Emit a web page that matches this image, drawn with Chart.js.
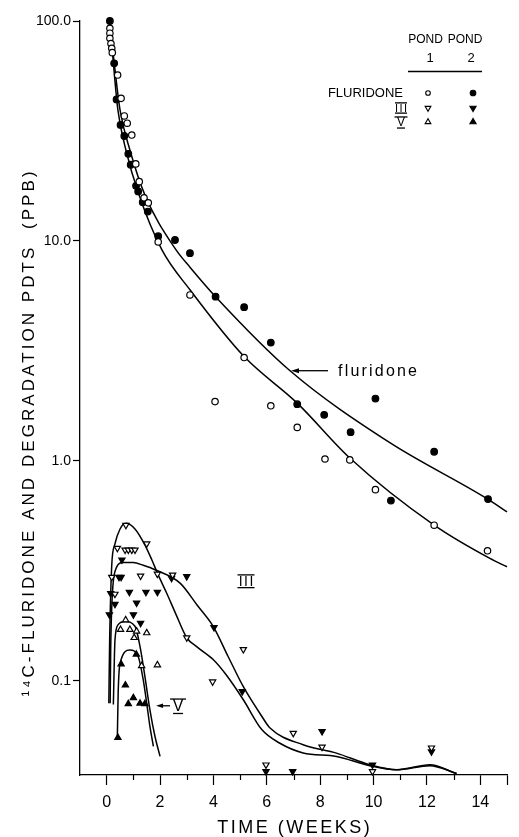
<!DOCTYPE html>
<html>
<head>
<meta charset="utf-8">
<script src="https://cdn.jsdelivr.net/npm/chart.js@4.4.1/dist/chart.umd.min.js"></script>
<style>
  html, body { margin: 0; padding: 0; background: #fff; }
  #wrap { width: 519px; height: 837px; position: relative; }
  canvas { display: block; }
</style>
</head>
<body>
<div id="wrap"><canvas id="c" width="519" height="837"></canvas></div>
<script>
// ---------------- DATA ----------------
// Fluridone, pond 1 (open circles)
const fluridoneWeeksP1 = [0.12, 0.12, 0.12, 0.16, 0.19, 0.21, 0.41, 0.54, 0.66, 0.77, 0.94, 1.09, 1.22, 1.40, 1.56, 1.93, 3.12, 4.06, 5.15, 6.15, 7.14, 8.18, 9.11, 10.07, 12.27, 14.27];
const fluridonePpbP1   = [92.6, 88, 83.4, 79, 75.1, 71.8, 56.8, 44.5, 37, 34.3, 30.3, 22.4, 18.6, 15.7, 14.9, 9.9, 5.68, 1.86, 2.95, 1.78, 1.42, 1.02, 1.01, 0.74, 0.51, 0.39];
// Fluridone, pond 2 (filled circles)
const fluridoneWeeksP2 = [0.12, 0.28, 0.37, 0.52, 0.66, 0.81, 0.90, 1.10, 1.18, 1.35, 1.54, 1.93, 2.56, 3.12, 4.08, 5.15, 6.15, 7.14, 8.15, 9.14, 10.07, 10.65, 12.27, 14.29];
const fluridonePpbP2   = [100, 64.2, 44, 33.7, 30, 24.9, 22.2, 17.8, 16.8, 15, 13.6, 10.5, 10.1, 8.8, 5.58, 5.0, 3.45, 1.81, 1.62, 1.35, 1.92, 0.66, 1.10, 0.67];
// Product III, pond 1 (open down-triangles)
const prodIIIWeeksP1 = [0.72, 0.40, 0.69, 0.81, 0.94, 1.06, 1.50, 0.19, 1.27, 1.90, 2.47, 0.31, 3.0, 5.12, 3.97, 6.99, 8.07, 12.17, 5.97, 9.96];
const prodIIIPpbP1   = [0.51, 0.401, 0.394, 0.394, 0.394, 0.394, 0.42, 0.296, 0.300, 0.306, 0.303, 0.248, 0.157, 0.139, 0.099, 0.0578, 0.050, 0.0496, 0.0415, 0.0387];
// Product III, pond 2 (filled down-triangles)
const prodIIIWeeksP2 = [0.57, 0.46, 0.54, 2.43, 3.0, 0.15, 0.85, 1.47, 1.90, 0.31, 1.12, 0.10, 1.0, 1.27, 4.02, 5.08, 8.07, 12.17, 6.97, 5.97, 9.96];
const prodIIIPpbP2   = [0.355, 0.296, 0.296, 0.293, 0.298, 0.25, 0.253, 0.253, 0.253, 0.223, 0.226, 0.20, 0.20, 0.183, 0.175, 0.0894, 0.0589, 0.0476, 0.0387, 0.0387, 0.0415];
// Product V, pond 1 (open up-triangles)
const prodVWeeksP1 = [0.71, 0.52, 0.87, 1.03, 1.12, 1.50, 1.31, 1.90];
const prodVPpbP1   = [0.189, 0.171, 0.171, 0.157, 0.168, 0.165, 0.117, 0.118];
// Product V, pond 2 (filled up-triangles)
const prodVWeeksP2 = [0.54, 1.11, 0.70, 1.0, 0.81, 1.25, 1.43, 0.42];
const prodVPpbP2   = [0.119, 0.132, 0.0955, 0.0837, 0.0786, 0.079, 0.0786, 0.0552];

// Hand-drawn fitted curves
const fitFluridoneP2Weeks = [0.12, 0.27, 0.5, 0.87, 1.43, 2.6, 3.12, 4.08, 6.87, 10.61, 14.28, 15];
const fitFluridoneP2Ppb   = [100, 66.5, 39.4, 25.9, 16.2, 9.1, 7.6, 5.58, 2.57, 1.21, 0.67, 0.586];
const fitFluridoneP1Weeks = [0.12, 0.24, 0.42, 0.72, 1.21, 2.07, 3.12, 5.15, 7.14, 9.11, 12.27, 14.36, 15];
const fitFluridoneP1Ppb   = [100, 66.5, 39.4, 25.9, 16.2, 9.1, 6.0, 2.98, 1.83, 1.03, 0.51, 0.36, 0.33];
const fitIIIP1Weeks = [0.08, 0.11, 0.19, 0.3, 0.5, 0.72, 1.06, 1.43, 1.69, 1.93, 2.25, 2.6, 3.0, 3.37, 3.99, 4.49, 5.12, 5.81, 6.49, 7.36, 8.61, 9.86, 10.86, 12.11, 13.11];
const fitIIIP1Ppb   = [0.079, 0.15, 0.336, 0.415, 0.49, 0.52, 0.49, 0.415, 0.355, 0.303, 0.25, 0.2, 0.157, 0.143, 0.125, 0.106, 0.082, 0.06, 0.052, 0.047, 0.0453, 0.0411, 0.0394, 0.0411, 0.0379];
const fitIIIP2Weeks = [0.13, 0.15, 0.2, 0.31, 0.62, 1.0, 1.37, 1.81, 2.75, 3.4, 3.99, 4.55, 5.12, 5.81, 6.12, 7.36, 8.61, 9.86, 10.86, 12.11, 13.11];
const fitIIIP2Ppb   = [0.079, 0.138, 0.231, 0.314, 0.345, 0.345, 0.335, 0.32, 0.278, 0.22, 0.177, 0.129, 0.094, 0.069, 0.061, 0.0512, 0.0469, 0.0415, 0.0394, 0.0415, 0.0379];
const fitVP1Weeks = [0.25, 0.31, 0.43, 0.69, 1.06, 1.25, 1.43, 1.62, 1.81, 2.0];
const fitVP1Ppb   = [0.078, 0.153, 0.18, 0.186, 0.177, 0.143, 0.105, 0.0738, 0.0558, 0.0453];
const fitVP2Weeks = [0.40, 0.43, 0.5, 0.87, 1.18, 1.37, 1.5, 1.62, 1.75];
const fitVP2Ppb   = [0.0558, 0.0879, 0.12, 0.138, 0.129, 0.101, 0.079, 0.062, 0.0503];

// Axis ticks
const xLabelWeeks = [0, 2, 4, 6, 8, 10, 12, 14];
const yTickValues = [0.1, 1, 10, 100];
const yTickLabels = ['0.1', '1.0', '10.0', '100.0'];

// ---------------- CHART ----------------
const FONT = '"Liberation Sans", Arial, sans-serif';
const pts = (xs, ys) => xs.map((x, i) => ({ x: x, y: ys[i] }));

function markerSet(label, xs, ys, style, filled, rotation, radius) {
  return {
    label: label,
    data: pts(xs, ys),
    showLine: false,
    pointStyle: style,
    pointRotation: rotation,
    pointRadius: radius,
    pointHoverRadius: radius,
    pointBackgroundColor: filled ? '#000' : '#fff',
    pointBorderColor: '#000',
    pointBorderWidth: 1.2,
    clip: false,
    order: 0
  };
}
function curveSet(label, xs, ys) {
  return {
    label: label,
    data: pts(xs, ys),
    showLine: true,
    pointRadius: 0,
    pointHoverRadius: 0,
    borderColor: '#000',
    borderWidth: 1.5,
    cubicInterpolationMode: 'monotone',
    fill: false,
    clip: false,
    order: 1
  };
}

function spacedText(ctx, text, x, y, targetWidth) {
  ctx.letterSpacing = '0px';
  const w = ctx.measureText(text).width;
  const n = Array.from(text).length;
  const sp = Math.max(0, (targetWidth - w) / n);
  ctx.letterSpacing = sp.toFixed(2) + 'px';
  ctx.fillText(text, x + sp / 2, y);
  ctx.letterSpacing = '0px';
}

function drawTri(ctx, x, y, r, down, filled) {
  ctx.beginPath();
  const s = down ? -1 : 1;
  ctx.moveTo(x, y - s * r);
  ctx.lineTo(x - r * 0.866, y + s * r * 0.5);
  ctx.lineTo(x + r * 0.866, y + s * r * 0.5);
  ctx.closePath();
  ctx.fillStyle = filled ? '#000' : '#fff';
  ctx.fill();
  ctx.lineWidth = 1.1;
  ctx.strokeStyle = '#000';
  ctx.stroke();
}
function drawCirc(ctx, x, y, r, filled) {
  ctx.beginPath();
  ctx.arc(x, y, r, 0, Math.PI * 2);
  ctx.fillStyle = filled ? '#000' : '#fff';
  ctx.fill();
  ctx.lineWidth = 1.1;
  ctx.strokeStyle = '#000';
  ctx.stroke();
}
function hline(ctx, x1, x2, y, w) {
  ctx.beginPath();
  ctx.moveTo(x1, y); ctx.lineTo(x2, y);
  ctx.lineWidth = w || 1.2;
  ctx.strokeStyle = '#000';
  ctx.stroke();
}
function roman(ctx, text, cx, cy, size, topW, botW) {
  ctx.save();
  ctx.font = size + 'px ' + FONT;
  ctx.textAlign = 'center';
  ctx.textBaseline = 'middle';
  ctx.fillStyle = '#000';
  ctx.letterSpacing = text === 'III' ? '1.5px' : '0px';
  ctx.fillText(text, cx + (text === 'III' ? 0.75 : 0), cy + 1);
  ctx.letterSpacing = '0px';
  const h = size * 0.42;
  hline(ctx, cx - topW / 2, cx + topW / 2, cy - h, 1.3);
  hline(ctx, cx - botW / 2, cx + botW / 2, cy + h + 1, 1.3);
  ctx.restore();
}

const decor = {
  id: 'decor',
  afterDraw(chart) {
    const ctx = chart.ctx;
    const xs = chart.scales.x, ys = chart.scales.y;
    const ca = chart.chartArea;
    ctx.save();
    ctx.fillStyle = '#000';
    ctx.strokeStyle = '#000';

    // short minor ticks at odd weeks
    for (let v = 1; v <= 13; v += 2) {
      const px = Math.round(xs.getPixelForValue(v)) + 0.5;
      ctx.beginPath();
      ctx.moveTo(px, ca.bottom);
      ctx.lineTo(px, ca.bottom + 5);
      ctx.lineWidth = 1.2;
      ctx.stroke();
    }

    // axis titles
    ctx.textAlign = 'center';
    ctx.textBaseline = 'middle';
    ctx.font = '18px ' + FONT;
    spacedText(ctx, 'TIME (WEEKS)', (ca.left + ca.right) / 2, 828, 155);
    ctx.save();
    ctx.translate(29, 434);
    ctx.rotate(-Math.PI / 2);
    ctx.font = '17px ' + FONT;
    spacedText(ctx, '\u00B9\u2074C-FLURIDONE AND DEGRADATION PDTS  (PPB)', 0, 0, 528);
    ctx.restore();

    // "fluridone" arrow label
    const fx = xs.getPixelForValue(6.87), fy = ys.getPixelForValue(2.57);
    ctx.beginPath();
    ctx.moveTo(fx + 1, fy);
    ctx.lineTo(fx + 9, fy - 2.5);
    ctx.lineTo(fx + 9, fy + 2.5);
    ctx.closePath();
    ctx.fill();
    hline(ctx, fx + 8, fx + 38, fy, 1.3);
    ctx.textAlign = 'left';
    ctx.font = '16px ' + FONT;
    spacedText(ctx, 'fluridone', fx + 47, fy + 1, 81);

    // "III" label
    roman(ctx, 'III', xs.getPixelForValue(5.22), ys.getPixelForValue(0.285), 14, 17, 17);

    // "V" arrow label
    const vx = xs.getPixelForValue(1.85), vy = ys.getPixelForValue(0.077);
    ctx.beginPath();
    ctx.moveTo(vx, vy);
    ctx.lineTo(vx + 7, vy - 2.3);
    ctx.lineTo(vx + 7, vy + 2.3);
    ctx.closePath();
    ctx.fill();
    hline(ctx, vx + 6, vx + 14, vy, 1.3);
    roman(ctx, 'V', vx + 22, vy, 16, 16, 10);

    // legend block (top right)
    ctx.textAlign = 'center';
    ctx.textBaseline = 'middle';
    ctx.fillStyle = '#000';
    ctx.font = '12px ' + FONT;
    ctx.fillText('POND', 425.5, 40);
    ctx.fillText('POND', 465, 40);
    ctx.font = '13px ' + FONT;
    ctx.fillText('1', 430, 58);
    ctx.fillText('2', 471, 58);
    hline(ctx, 408, 482, 71.5, 1.3);
    ctx.textAlign = 'right';
    ctx.fillText('FLURIDONE', 403, 93);
    roman(ctx, 'III', 401, 107.5, 11, 12, 12);
    roman(ctx, 'V', 401, 122, 12, 13, 8);
    drawCirc(ctx, 428, 93, 2.3, false);
    drawCirc(ctx, 473, 93, 2.8, true);
    drawTri(ctx, 428, 108, 3.3, true, false);
    drawTri(ctx, 473, 108, 3.6, true, true);
    drawTri(ctx, 428, 122, 3.3, false, false);
    drawTri(ctx, 473, 122, 3.6, false, true);
    ctx.restore();
  }
};

const chart = new Chart(document.getElementById('c'), {
  type: 'scatter',
  data: {
    datasets: [
      markerSet('Fluridone pond 1', fluridoneWeeksP1, fluridonePpbP1, 'circle', false, 0, 3.2),
      markerSet('Fluridone pond 2', fluridoneWeeksP2, fluridonePpbP2, 'circle', true, 0, 3.3),
      markerSet('III pond 1', prodIIIWeeksP1, prodIIIPpbP1, 'triangle', false, 180, 3.6),
      markerSet('III pond 2', prodIIIWeeksP2, prodIIIPpbP2, 'triangle', true, 180, 3.6),
      markerSet('V pond 1', prodVWeeksP1, prodVPpbP1, 'triangle', false, 0, 3.6),
      markerSet('V pond 2', prodVWeeksP2, prodVPpbP2, 'triangle', true, 0, 3.6),
      curveSet('Fluridone fit pond 2', fitFluridoneP2Weeks, fitFluridoneP2Ppb),
      curveSet('Fluridone fit pond 1', fitFluridoneP1Weeks, fitFluridoneP1Ppb),
      curveSet('III fit pond 1', fitIIIP1Weeks, fitIIIP1Ppb),
      curveSet('III fit pond 2', fitIIIP2Weeks, fitIIIP2Ppb),
      curveSet('V fit pond 1', fitVP1Weeks, fitVP1Ppb),
      curveSet('V fit pond 2', fitVP2Weeks, fitVP2Ppb)
    ]
  },
  options: {
    responsive: false,
    animation: false,
    devicePixelRatio: 1,
    events: [],
    layout: { padding: { top: 21, right: 12, left: 0, bottom: 0 } },
    plugins: {
      legend: { display: false },
      tooltip: { enabled: false },
      title: { display: false }
    },
    scales: {
      x: {
        type: 'linear',
        min: -1,
        max: 15,
        afterFit: (s) => { s.height = 62; },
        ticks: {
          stepSize: 1,
          autoSkip: false,
          maxRotation: 0,
          padding: 8,
          color: '#000',
          font: { family: FONT, size: 16 },
          callback: (v) => (xLabelWeeks.includes(v) ? String(v) : '')
        },
        grid: {
          display: true,
          drawOnChartArea: false,
          drawTicks: true,
          tickLength: 10,
          tickWidth: 1.2,
          tickColor: (c) => {
            const v = c.tick ? c.tick.value : NaN;
            return (xLabelWeeks.includes(v) || v === 15) ? '#000' : 'rgba(0,0,0,0)';
          }
        },
        border: { display: true, color: '#000', width: 1.3 }
      },
      y: {
        type: 'logarithmic',
        min: 0.0373,
        max: 100,
        afterFit: (s) => { s.width = 80; },
        afterBuildTicks: (s) => { s.ticks = yTickValues.map((v) => ({ value: v })); },
        ticks: {
          autoSkip: false,
          padding: 2,
          color: '#000',
          font: { family: FONT, size: 14 },
          callback: (v) => {
            const i = yTickValues.findIndex((t) => Math.abs(t - v) < 1e-9 * Math.max(1, t));
            return i >= 0 ? yTickLabels[i] : '';
          }
        },
        grid: {
          display: true,
          drawOnChartArea: false,
          drawTicks: true,
          tickLength: 7,
          tickWidth: 1.2,
          tickColor: '#000'
        },
        border: { display: true, color: '#000', width: 1.3 }
      }
    }
  },
  plugins: [decor]
});
</script>
</body>
</html>
